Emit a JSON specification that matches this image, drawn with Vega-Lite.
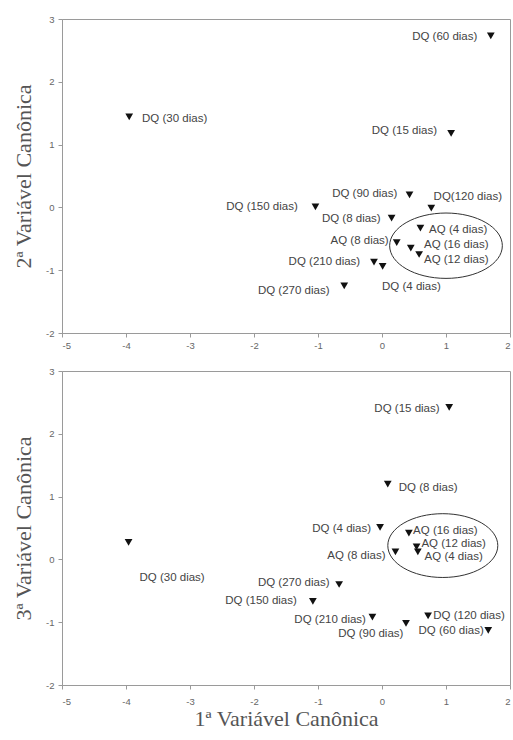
{
  "$schema": "https://vega.github.io/schema/vega-lite/v6.json",
  "background": "white",
  "padding": {"left": 12, "top": 13, "right": 2, "bottom": 4},
  "spacing": 38,
  "bounds": "flush",
  "config": {
    "view": {"stroke": "#9a9a9a", "strokeWidth": 1},
    "axis": {
      "grid": false,
      "domainColor": "#9a9a9a",
      "tickColor": "#9a9a9a",
      "tickSize": 4,
      "labelFont": "Liberation Sans",
      "labelFontSize": 9.5,
      "labelColor": "#666666",
      "labelExpr": "replace(datum.label, '\u2212', '-')",
      "titleFont": "Liberation Serif",
      "titleFontSize": 22,
      "titleFontWeight": "normal",
      "titleColor": "#555555"
    }
  },
  "datasets": {
    "top": [
      {"label": "DQ (60 dias)", "x": 1.70, "y": 2.73, "lx": 0.98, "ly": 2.72},
      {"label": "DQ (15 dias)", "x": 1.08, "y": 1.18, "lx": 0.35, "ly": 1.21},
      {"label": "DQ (30 dias)", "x": -3.95, "y": 1.44, "lx": -3.24, "ly": 1.40},
      {"label": "DQ (90 dias)", "x": 0.43, "y": 0.20, "lx": -0.27, "ly": 0.22},
      {"label": "DQ(120 dias)", "x": 0.77, "y": -0.01, "lx": 1.34, "ly": 0.17},
      {"label": "DQ (150 dias)", "x": -1.04, "y": 0.01, "lx": -1.875, "ly": 0.0},
      {"label": "DQ (8 dias)", "x": 0.15, "y": -0.17, "lx": -0.48, "ly": -0.19},
      {"label": "AQ (4 dias)", "x": 0.60, "y": -0.33, "lx": 1.19, "ly": -0.36},
      {"label": "AQ (8 dias)", "x": 0.23, "y": -0.56, "lx": -0.35, "ly": -0.53},
      {"label": "AQ (16 dias)", "x": 0.45, "y": -0.65, "lx": 1.16, "ly": -0.60},
      {"label": "AQ (12 dias)", "x": 0.58, "y": -0.75, "lx": 1.16, "ly": -0.83},
      {"label": "DQ (210 dias)", "x": -0.125, "y": -0.87, "lx": -0.90, "ly": -0.87},
      {"label": "DQ (4 dias)", "x": 0.01, "y": -0.94, "lx": 0.46, "ly": -1.27},
      {"label": "DQ (270 dias)", "x": -0.59, "y": -1.25, "lx": -1.38, "ly": -1.33}
    ],
    "bottom": [
      {"label": "DQ (15 dias)", "x": 1.05, "y": 2.42, "lx": 0.39, "ly": 2.39},
      {"label": "DQ (8 dias)", "x": 0.09, "y": 1.20, "lx": 0.72, "ly": 1.13},
      {"label": "DQ (4 dias)", "x": -0.03, "y": 0.51, "lx": -0.63, "ly": 0.48},
      {"label": "AQ (16 dias)", "x": 0.42, "y": 0.42, "lx": 0.99, "ly": 0.46},
      {"label": "AQ (12 dias)", "x": 0.54, "y": 0.20, "lx": 1.12, "ly": 0.25},
      {"label": "AQ (4 dias)", "x": 0.56, "y": 0.12, "lx": 1.12, "ly": 0.04},
      {"label": "AQ (8 dias)", "x": 0.21, "y": 0.12, "lx": -0.40, "ly": 0.06},
      {"label": "DQ (270 dias)", "x": -0.67, "y": -0.40, "lx": -1.38, "ly": -0.37},
      {"label": "DQ (150 dias)", "x": -1.08, "y": -0.67, "lx": -1.89, "ly": -0.67},
      {"label": "DQ (210 dias)", "x": -0.15, "y": -0.92, "lx": -0.81, "ly": -0.97},
      {"label": "DQ (90 dias)", "x": 0.375, "y": -1.02, "lx": -0.175, "ly": -1.19},
      {"label": "DQ (120 dias)", "x": 0.72, "y": -0.90, "lx": 1.36, "ly": -0.90},
      {"label": "DQ (60 dias)", "x": 1.66, "y": -1.13, "lx": 1.08, "ly": -1.14},
      {"label": "DQ (30 dias)", "x": -3.96, "y": 0.27, "lx": -3.28, "ly": -0.29}
    ],
    "ellTop": [{"cx": 1.0, "cy": -0.61}],
    "ellBottom": [{"cx": 0.95, "cy": 0.22}]
  },
  "vconcat": [
    {
      "width": 448,
      "height": 314,
      "layer": [
        {
          "data": {"name": "ellTop"},
          "mark": {"type": "point", "shape": "M-1,0A1,0.58 0 1,1 1,0A1,0.58 0 1,1 -1,0", "size": 12700, "filled": false, "stroke": "#333333", "strokeWidth": 1, "opacity": 1},
          "encoding": {
            "x": {"field": "cx", "type": "quantitative", "scale": {"domain": [-5, 2], "nice": false, "zero": false}, "axis": {"values": [-5, -4, -3, -2, -1, 0, 1, 2], "title": null, "labelPadding": 3}},
            "y": {"field": "cy", "type": "quantitative", "scale": {"domain": [-2, 3], "nice": false, "zero": false}, "axis": {"values": [-2, -1, 0, 1, 2, 3], "title": "2ª Variável Canônica", "titlePadding": 10, "labelPadding": 4}}
          }
        },
        {
          "data": {"name": "top"},
          "mark": {"type": "point", "shape": "triangle-down", "size": 60, "filled": true, "color": "#111111", "opacity": 1},
          "encoding": {
            "x": {"field": "x", "type": "quantitative", "scale": {"domain": [-5, 2], "nice": false, "zero": false}, "axis": {"values": [-5, -4, -3, -2, -1, 0, 1, 2], "title": null, "labelPadding": 3}},
            "y": {"field": "y", "type": "quantitative", "scale": {"domain": [-2, 3], "nice": false, "zero": false}, "axis": {"values": [-2, -1, 0, 1, 2, 3], "title": "2ª Variável Canônica", "titlePadding": 10, "labelPadding": 4}}
          }
        },
        {
          "data": {"name": "top"},
          "mark": {"type": "text", "font": "Liberation Sans", "fontSize": 11.5, "color": "#444444", "align": "center", "baseline": "middle"},
          "encoding": {
            "x": {"field": "lx", "type": "quantitative", "scale": {"domain": [-5, 2], "nice": false, "zero": false}, "axis": {"values": [-5, -4, -3, -2, -1, 0, 1, 2], "title": null, "labelPadding": 3}},
            "y": {"field": "ly", "type": "quantitative", "scale": {"domain": [-2, 3], "nice": false, "zero": false}, "axis": {"values": [-2, -1, 0, 1, 2, 3], "title": "2ª Variável Canônica", "titlePadding": 10, "labelPadding": 4}},
            "text": {"field": "label"}
          }
        }
      ]
    },
    {
      "width": 448,
      "height": 314,
      "layer": [
        {
          "data": {"name": "ellBottom"},
          "mark": {"type": "point", "shape": "M-1,0A1,0.58 0 1,1 1,0A1,0.58 0 1,1 -1,0", "size": 12100, "filled": false, "stroke": "#333333", "strokeWidth": 1, "opacity": 1},
          "encoding": {
            "x": {"field": "cx", "type": "quantitative", "scale": {"domain": [-5, 2], "nice": false, "zero": false}, "axis": {"values": [-5, -4, -3, -2, -1, 0, 1, 2], "title": "1ª Variável Canônica", "labelPadding": 7, "titlePadding": 3}},
            "y": {"field": "cy", "type": "quantitative", "scale": {"domain": [-2, 3], "nice": false, "zero": false}, "axis": {"values": [-2, -1, 0, 1, 2, 3], "title": "3ª Variável Canônica", "titlePadding": 10, "labelPadding": 4}}
          }
        },
        {
          "data": {"name": "bottom"},
          "mark": {"type": "point", "shape": "triangle-down", "size": 60, "filled": true, "color": "#111111", "opacity": 1},
          "encoding": {
            "x": {"field": "x", "type": "quantitative", "scale": {"domain": [-5, 2], "nice": false, "zero": false}, "axis": {"values": [-5, -4, -3, -2, -1, 0, 1, 2], "title": "1ª Variável Canônica", "labelPadding": 7, "titlePadding": 3}},
            "y": {"field": "y", "type": "quantitative", "scale": {"domain": [-2, 3], "nice": false, "zero": false}, "axis": {"values": [-2, -1, 0, 1, 2, 3], "title": "3ª Variável Canônica", "titlePadding": 10, "labelPadding": 4}}
          }
        },
        {
          "data": {"name": "bottom"},
          "mark": {"type": "text", "font": "Liberation Sans", "fontSize": 11.5, "color": "#444444", "align": "center", "baseline": "middle"},
          "encoding": {
            "x": {"field": "lx", "type": "quantitative", "scale": {"domain": [-5, 2], "nice": false, "zero": false}, "axis": {"values": [-5, -4, -3, -2, -1, 0, 1, 2], "title": "1ª Variável Canônica", "labelPadding": 7, "titlePadding": 3}},
            "y": {"field": "ly", "type": "quantitative", "scale": {"domain": [-2, 3], "nice": false, "zero": false}, "axis": {"values": [-2, -1, 0, 1, 2, 3], "title": "3ª Variável Canônica", "titlePadding": 10, "labelPadding": 4}},
            "text": {"field": "label"}
          }
        }
      ]
    }
  ]
}
